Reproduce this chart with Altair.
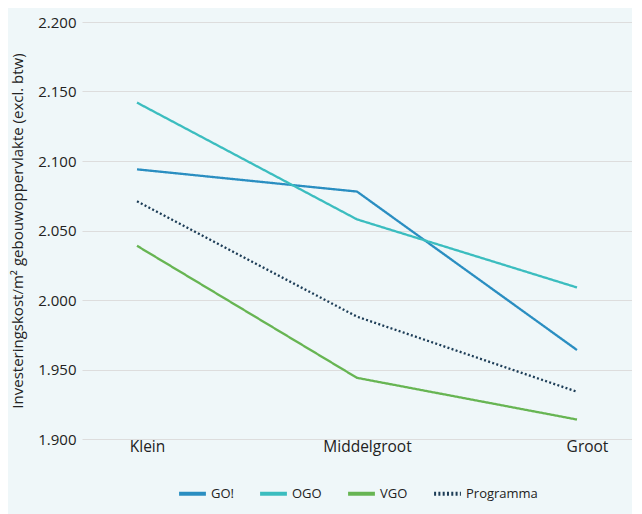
import altair as alt
import pandas as pd

categories = ["Klein", "Middelgroot", "Groot"]
series = ["GO!", "OGO", "VGO", "Programma"]
go_vals = [2094, 2078, 1964]
ogo_vals = [2142, 2058, 2009]
vgo_vals = [2039, 1944, 1914]
prog_vals = [2071, 1988, 1934]
colors = ["#2a8ec1", "#3bbdbf", "#67b553", "#1d3d57"]

rows = []
for name, vals in zip(series, [go_vals, ogo_vals, vgo_vals, prog_vals]):
    for c, v in zip(categories, vals):
        rows.append({"cat": c, "serie": name, "val": v})
df = pd.DataFrame(rows)

font = "Open Sans"
legend = alt.Legend(title=None, orient="none", legendX=95, legendY=456, direction="horizontal",
                    symbolType="stroke", symbolStrokeWidth=4, symbolSize=720,
                    labelFont=font, labelFontSize=13, labelColor="#222",
                    columnPadding=18, labelOffset=3)

chart = alt.Chart(df).mark_line(strokeWidth=2.3).encode(
    x=alt.X("cat:N", sort=categories, title=None,
            scale=alt.Scale(type="point", padding=0.25),
            axis=alt.Axis(labelAngle=0, domain=False, ticks=False, labelFontSize=15.5,
                          labelColor="#222", labelFont=font, labelPadding=0, labelOffset=10)),
    y=alt.Y("val:Q", title="Investeringskost/m² gebouwoppervlakte (excl. btw)",
            scale=alt.Scale(domain=[1900, 2200], nice=False, zero=False),
            axis=alt.Axis(values=[1900, 1950, 2000, 2050, 2100, 2150, 2200],
                          labelExpr="replace(format(datum.value, ',.0f'), ',', '.')",
                          domain=False, ticks=False, labelFontSize=15, labelColor="#222",
                          labelFont=font, labelPadding=6, gridColor="#dddddd",
                          titleFont=font, titleFontSize=15, titleFontWeight="normal",
                          titleColor="#222", titlePadding=12)),
    color=alt.Color("serie:N", sort=series,
                    scale=alt.Scale(domain=series, range=colors),
                    legend=legend),
    strokeDash=alt.StrokeDash("serie:N", sort=series,
                              scale=alt.Scale(domain=series, range=[[1, 0], [1, 0], [1, 0], [2, 2.3]]),
                              legend=legend),
).properties(width=550, height=417, background="#eff7f9",
             padding={"left": 2, "top": 7, "right": 0, "bottom": 14}).configure_view(stroke=None)

chart.save("out.html", embed_options={"renderer": "svg", "actions": False})
